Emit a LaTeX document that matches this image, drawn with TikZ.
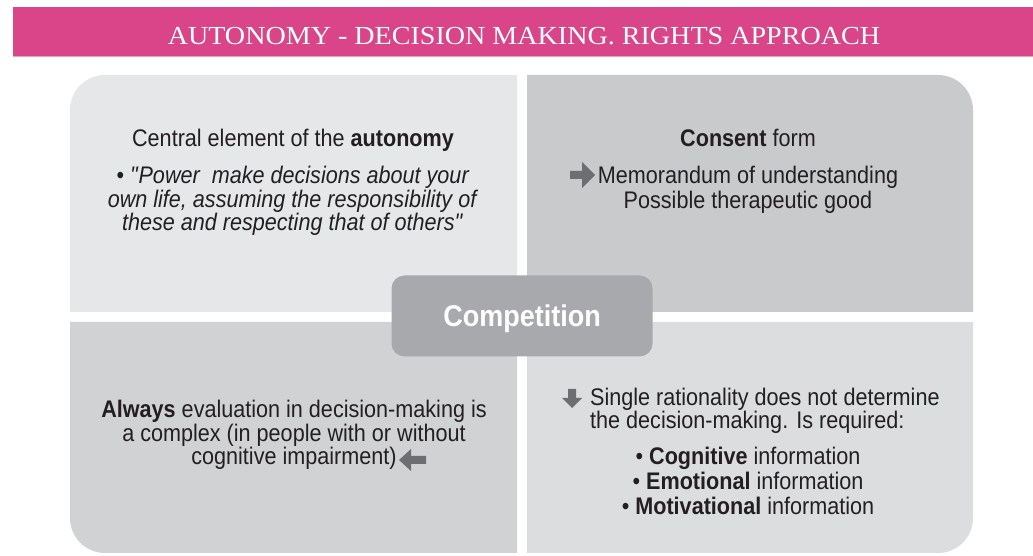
\documentclass[tikz,border=0pt]{standalone}
\usepackage{fontspec}
\setmainfont{Liberation Sans}[FakeStretch=0.9]
\newfontfamily\titlefont{Liberation Serif}[FakeStretch=1.08]

\definecolor{bannerpink}{HTML}{DA4589}
\definecolor{bannerline}{HTML}{E8A3C2}
\definecolor{boxtl}{HTML}{E6E7E8}
\definecolor{boxtr}{HTML}{C9CACC}
\definecolor{boxbl}{HTML}{D1D2D4}
\definecolor{boxbr}{HTML}{DCDDDE}
\definecolor{centregrey}{HTML}{A7A9AC}
\definecolor{arrowgrey}{HTML}{6D6E71}
\definecolor{inktext}{HTML}{231F20}

\begin{document}
\begin{tikzpicture}[x=1pt, y=1pt,
    quadtext/.style={text=inktext, align=center, anchor=base, inner sep=0pt,
      font=\fontsize{24}{23.5}\selectfont},
    bigarrow/.style={fill=arrowgrey}]

    \useasboundingbox (0,0) rectangle (1033,556);

    % bandeau du titre
    \fill[bannerpink] (13,499) rectangle (1033,549);
    \draw[bannerline, line width=1pt] (13,499.5) -- (1033,499.5);
    \node[text=white, anchor=base, inner sep=0pt, font=\titlefont\fontsize{26}{28}\selectfont] (titre) at (524,511)
      {AUTONOMY - DECISION MAKING. RIGHTS APPROACH};

    % quatre quadrants
    \fill[boxtl] (517,244) -- (70,244) -- (70,446) arc (180:90:35) -- (517,481) -- cycle;
    \fill[boxtr] (527,244) -- (527,481) -- (938,481) arc (90:0:35) -- (973,244) -- cycle;
    \fill[boxbl] (517,234) -- (517,3) -- (105,3) arc (270:180:35) -- (70,234) -- cycle;
    \fill[boxbr] (527,234) -- (527,3) -- (938,3) arc (270:360:35) -- (973,234) -- cycle;

    % case centrale
    \node[fill=centregrey, rounded corners=13pt, minimum width=261pt, minimum height=81pt,
      text depth=0pt, text=white, font=\bfseries\fontsize{30}{32}\selectfont] (competition) at (522,240) {Competition};

    % haut gauche (base = derniere ligne)
    \node[quadtext] (central) at (293,409) {Central element of the \textbf{autonomy}};
    \node[quadtext] (pouvoir) at (293,325) {\textbullet\ \textit{\textquotedbl Power\ \ make decisions about your}\\
      \textit{own life, assuming the responsibility of}\\
      \textit{these and respecting that of others\textquotedbl}};

    % haut droite
    \node[quadtext] (consent) at (748,409) {\textbf{Consent} form};
    \node[quadtext, font=\fontsize{24}{25}\selectfont] (memo) at (748,347) {Memorandum of understanding\\Possible therapeutic good};
    \fill[bigarrow] (570,377) -- (582,377) -- (582,368) -- (595,381) -- (582,394) -- (582,385) -- (570,385) -- cycle;

    % bas gauche
    \node[quadtext] (always) at (294,91) {\textbf{Always} evaluation in decision-making is\\
      a complex (in people with or without\\
      cognitive impairment)};
    \fill[bigarrow] (426,92) -- (411,92) -- (411,85) -- (399,96) -- (411,107) -- (411,100) -- (426,100) -- cycle;

    % bas droite
    \node[quadtext, align=left, anchor=base west] (single) at (590,127)
      {Single rationality does not determine\\the decision-making. Is required:};
    \fill[bigarrow] (568,167) -- (568,158) -- (562,158) -- (572,148) -- (582,158) -- (576,158) -- (576,167) -- cycle;
    \node[quadtext, font=\fontsize{24}{25}\selectfont] (info) at (748,41) {\textbullet\ \textbf{Cognitive} information\\
      \textbullet\ \textbf{Emotional} information\\
      \textbullet\ \textbf{Motivational} information};

\end{tikzpicture}
\end{document}
